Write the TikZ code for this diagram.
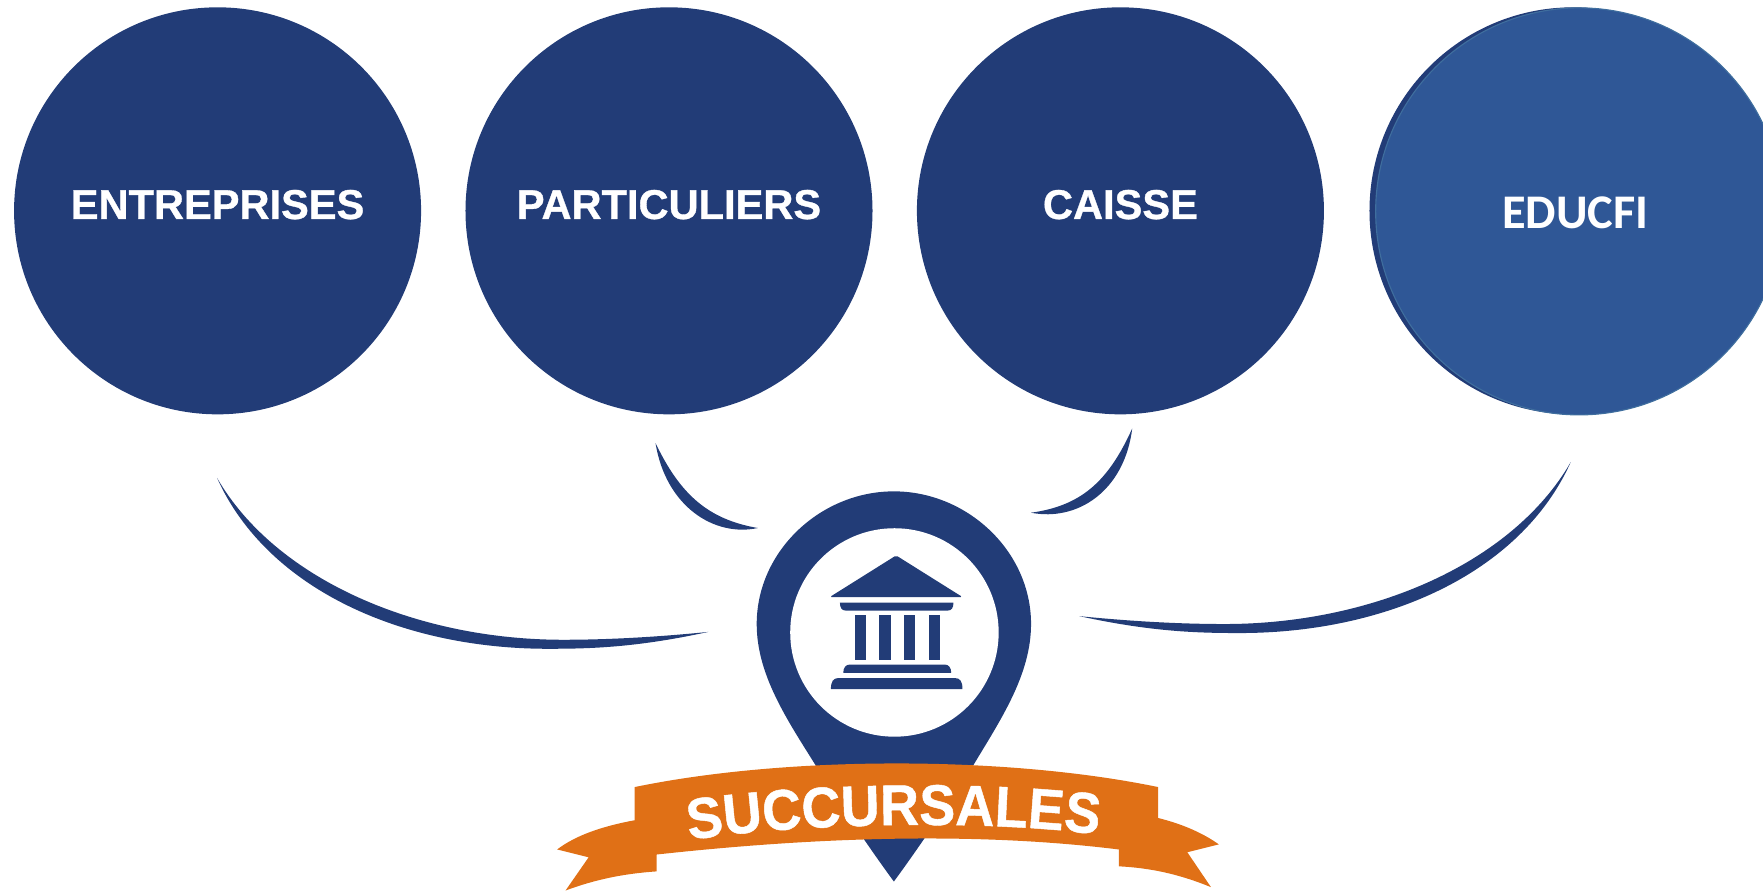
\documentclass[tikz,border=0pt]{standalone}
\usepackage{fontspec}
\setmainfont{Liberation Sans}
\newfontfamily\carlito{Carlito}
\newfontfamily\heavy[FakeBold=0.8]{Liberation Sans Bold}
\newfontfamily\heavytall[FakeBold=0.8,FakeStretch=0.94]{Liberation Sans Bold}
\usetikzlibrary{decorations.text}
\definecolor{navy}{HTML}{223C77}
\definecolor{lightnavy}{HTML}{2F5796}
\definecolor{rimblue}{HTML}{3F6E9E}
\definecolor{ribbon}{HTML}{E07016}
\tikzset{
  disc/.style={circle,fill=navy,draw=none,minimum size=362pt,inner sep=0pt},
  lbl/.style={text=white,font=\heavy\fontsize{37}{44}\selectfont,inner sep=0pt},
  shapefill/.style={fill=navy,draw=none},
}
\begin{document}
\begin{tikzpicture}[x=1pt,y=-1pt]
\useasboundingbox (0,0) rectangle (1568,792.5);
\clip (0,0) rectangle (1568,792.5);
% circles
\node[disc] (c1) at (193.5,187.5) {};
\node[disc] (c2) at (595,187.5) {};
\node[disc] (c3) at (996.5,187.5) {};
\node[disc] (c4) at (1399,187.5) {};
\node[circle,fill=lightnavy,draw=rimblue,line width=1pt,minimum size=362pt,inner sep=0pt] (c4b) at (1404.5,188) {};
\node[lbl] (t1) at (193.5,182) {ENTREPRISES};
\node[lbl] (t2) at (595,182) {PARTICULIERS};
\node[lbl] (t3) at (996.5,182) {CAISSE};
\node[lbl,font=\carlito\fontsize{43}{50}\selectfont\bfseries] (t4) at (1401,189) {EDUCFI};
% crescents
\fill[shapefill] (193,425) .. controls (245,515) and (370,569) .. (501,569)
   .. controls (545,569) and (590,566) .. (630,562)
   .. controls (570,575) and (530,577) .. (491,577)
   .. controls (360,578) and (238,525) .. (193,425) -- cycle;
\fill[shapefill] (1397,411) .. controls (1345,501) and (1220,555) .. (1089,555)
   .. controls (1045,555) and (1000,552) .. (960,548)
   .. controls (1020,561) and (1060,563) .. (1099,563)
   .. controls (1230,564) and (1352,511) .. (1397,411) -- cycle;
\fill[shapefill] (583,394) .. controls (605,440) and (630,462) .. (674,469.6)
   .. controls (635,478) and (592,450) .. (583,394) -- cycle;
\fill[shapefill] (1007,381) .. controls (985,430) and (960,450) .. (917,456)
   .. controls (958,464) and (1000,437) .. (1007,381) -- cycle;
% pin
\fill[shapefill] (795,437) .. controls (730,437) and (673,490) .. (673,555)
   .. controls (673,600) and (700,640) .. (725,680)
   .. controls (745,712) and (770,750) .. (795,784)
   .. controls (820,750) and (845,712) .. (866,680)
   .. controls (890,640) and (917,600) .. (917,555)
   .. controls (917,490) and (860,437) .. (795,437) -- cycle;
\fill[white] (795.5,562.5) circle (92.7);
% temple
\fill[shapefill,rounded corners=1.5pt] (738,531) -- (797,494) -- (856,531) -- cycle;
\fill[shapefill] (747,536) -- (848,536) .. controls (848,541) and (846,543) .. (843,543) -- (752,543) .. controls (749,543) and (747,541) .. (747,536) -- cycle;
\foreach \cx in {760,782,804,826} \fill[shapefill] (\cx,547) rectangle ++(10,40);
\fill[shapefill] (750,598.5) .. controls (750,594) and (752,591) .. (756,591) -- (840,591) .. controls (844,591) and (846,594) .. (846,598.5) -- cycle;
\fill[shapefill] (739,613) .. controls (739,606) and (741,603) .. (746,603) -- (849,603) .. controls (854,603) and (856,606) .. (856,613) -- cycle;
% ribbon
\fill[ribbon] (564.5,700) .. controls (700,672) and (895,672) .. (1030,700)
   -- (1030,727.5) .. controls (1052,733) and (1070,741) .. (1084,751)
   -- (1056,758) -- (1077,789) .. controls (1050,778) and (1025,772) .. (995,770.5)
   -- (995,755.5) .. controls (870,740) and (730,744) .. (584,760)
   -- (584,775) .. controls (555,777) and (530,782) .. (503,792)
   -- (523.5,762.5) -- (495.5,755.5) .. controls (512,743) and (535,735) .. (564.5,729.5) -- cycle;
\path[decorate,decoration={text along path,text align=center,
   text color=white,
   text={|\heavytall\fontsize{51}{58}\selectfont|SUCCURSALES}}]
   (608,748) .. controls (700,732) and (880,728) .. (982,743);
\end{tikzpicture}
\end{document}
